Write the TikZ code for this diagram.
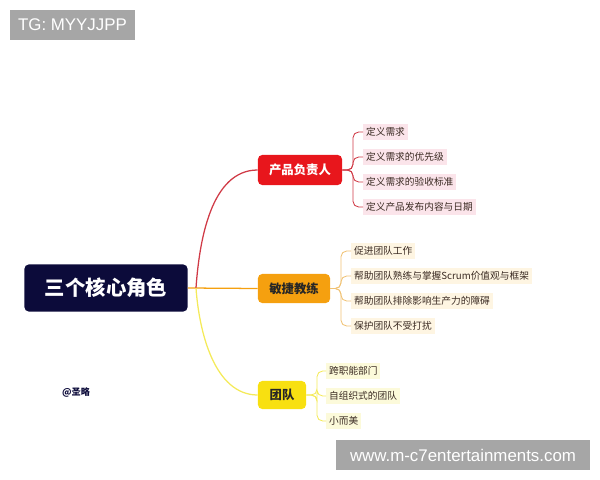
\documentclass[tikz,border=0pt]{standalone}
\usepackage{fontspec}
\setmainfont{Liberation Sans}
\newfontfamily\cjk{Noto Sans CJK SC}
\usetikzlibrary{positioning}

\definecolor{rootNavy}{HTML}{0C0B3A}
\definecolor{poRed}{HTML}{E8161C}
\definecolor{poLine}{HTML}{D03A46}
\definecolor{poLeaf}{HTML}{FBE4EA}
\definecolor{smOrange}{HTML}{F5A00F}
\definecolor{smLine}{HTML}{F0C274}
\definecolor{smLeaf}{HTML}{FEF5E2}
\definecolor{teamYellow}{HTML}{F8E011}
\definecolor{teamLine}{HTML}{F4EA5A}
\definecolor{teamLeaf}{HTML}{FCFADA}
\definecolor{markGray}{HTML}{A6A6A6}
\definecolor{leafText}{HTML}{3A2A22}

\begin{document}
\begin{tikzpicture}
                [
                x=0.025cm, y=-0.025cm,
                rootbox/.style={fill=rootNavy, text=white, rounded corners=3pt, minimum width=4.075cm, minimum height=1.175cm, font=\cjk\bfseries\fontsize{14.5}{17}\selectfont},
                mainbox/.style={rounded corners=3pt, font=\cjk\bfseries\fontsize{8.8}{10}\selectfont},
                leaf/.style={anchor=west, inner xsep=2pt, inner ysep=2.3pt, text=leafText, font=\cjk\fontsize{6.9}{8}\selectfont},
                branch/.style={line width=0.9pt},
                twig/.style={line width=0.6pt, rounded corners=4pt},
                stamp/.style={fill=markGray, text=white, inner sep=0pt, font=\fontsize{12}{14}\selectfont}
                ]
                \useasboundingbox (0,0) rectangle (600,480);
                % Watermarks
                \node[stamp, minimum width=3.125cm, minimum height=0.75cm] (tg) at (72.5,25) {TG: MYYJJPP};
                \node[stamp, minimum width=6.35cm, minimum height=0.75cm] (site) at (463,455) {www.m-c7entertainments.com};
                % Root node
                \node[rootbox] (root) at (106,288) {三个核心角色};
                \node[text=rootNavy, font=\cjk\bfseries\fontsize{6.5}{8}\selectfont] (sign) at (76,392) {@圣略};
                % Level 1: roles
                \node[mainbox, fill=poRed, text=white, minimum width=2.1cm, minimum height=0.75cm] (po) at (300,170) {产品负责人};
                \node[mainbox, fill=smOrange, text=black!85, minimum width=1.8cm, minimum height=0.725cm] (sm) at (294,288.5) {敏捷教练};
                \node[mainbox, fill=teamYellow, text=black!85, minimum width=1.2cm, minimum height=0.7cm] (team) at (282,395) {团队};
                \coordinate (hub) at (196,288);
                \draw[branch, smOrange] (root.east) -- (sm.west);
                \draw[branch, poLine] (hub) to[out=86, in=180, looseness=0.9] (po.west);
                \draw[branch, teamLine] (hub) to[out=-86, in=180, looseness=0.9] (team.west);
                % Level 2: product owner
                \node[leaf, fill=poLeaf] (po1) at (363,132) {定义需求};
                \node[leaf, fill=poLeaf] (po2) at (363,157) {定义需求的优先级};
                \node[leaf, fill=poLeaf] (po3) at (363,182) {定义需求的验收标准};
                \node[leaf, fill=poLeaf] (po4) at (363,207) {定义产品发布内容与日期};
                \draw[twig, poLine] (po.east) -- (353,170) |- (po1.west);
                \draw[twig, poLine] (po.east) -- (353,170) |- (po2.west);
                \draw[twig, poLine] (po.east) -- (353,170) |- (po3.west);
                \draw[twig, poLine] (po.east) -- (353,170) |- (po4.west);
                % Level 2: scrum master
                \node[leaf, fill=smLeaf] (sm1) at (351,251) {促进团队工作};
                \node[leaf, fill=smLeaf] (sm2) at (351,276) {帮助团队熟练与掌握Scrum价值观与框架};
                \node[leaf, fill=smLeaf] (sm3) at (351,301) {帮助团队排除影响生产力的障碍};
                \node[leaf, fill=smLeaf] (sm4) at (351,326) {保护团队不受打扰};
                \draw[twig, smLine] (sm.east) -- (341,288.5) |- (sm1.west);
                \draw[twig, smLine] (sm.east) -- (341,288.5) |- (sm2.west);
                \draw[twig, smLine] (sm.east) -- (341,288.5) |- (sm3.west);
                \draw[twig, smLine] (sm.east) -- (341,288.5) |- (sm4.west);
                % Level 2: team
                \node[leaf, fill=teamLeaf] (tm1) at (326,371) {跨职能部门};
                \node[leaf, fill=teamLeaf] (tm2) at (326,396) {自组织式的团队};
                \node[leaf, fill=teamLeaf] (tm3) at (326,421) {小而美};
                \draw[twig, teamLine] (team.east) -- (317,395) |- (tm1.west);
                \draw[twig, teamLine] (team.east) -- (317,395) |- (tm2.west);
                \draw[twig, teamLine] (team.east) -- (317,395) |- (tm3.west);
            \end{tikzpicture}
\end{document}
